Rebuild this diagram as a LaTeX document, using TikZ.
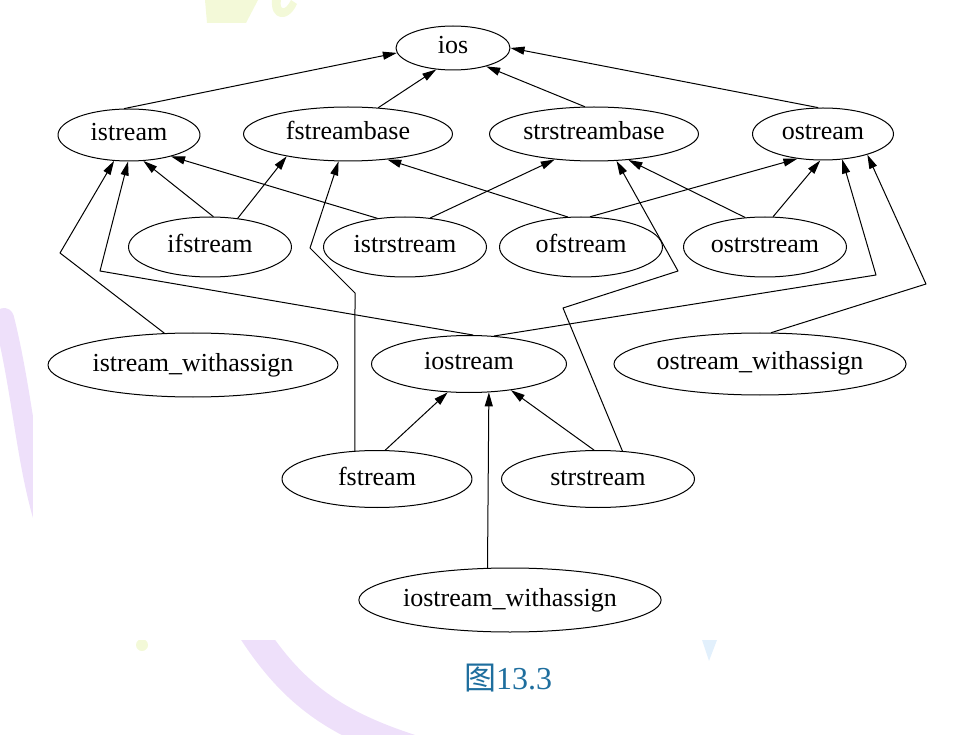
\documentclass[tikz,border=0pt]{standalone}
\usepackage{fontspec}
\setmainfont{Liberation Serif}
\newfontfamily\cjk{Noto Sans CJK SC}
\usetikzlibrary{shapes.geometric,arrows.meta}
\definecolor{capblue}{RGB}{30,110,158}
\definecolor{lilac}{RGB}{238,224,250}
\definecolor{lemon}{RGB}{243,249,216}
\definecolor{skyb}{RGB}{226,240,252}
\begin{document}
\begin{tikzpicture}[x=1pt,y=-1pt,line join=round,line cap=round,>={Triangle[length=14pt,width=8pt]},
	cls/.style={draw,ellipse,line width=1pt,inner sep=0pt,text height=18pt,text depth=6pt,font=\fontsize{26}{30}\selectfont},
	dep/.style={->,line width=1pt}]
	\useasboundingbox (0,0) rectangle (980,735);
	% background
	\fill[lemon] (205,0)--(258,0)--(246,23)--(207,23)--cycle;
	\fill[lemon] (272,0) .. controls (270,20) and (288,24) .. (297,4)--(291,0) .. controls (285,12) and (279,10) .. (281,0)--cycle;
	\draw[lilac,line width=20pt] (4,318) .. controls (22,390) and (26,460) .. (44,520);
	\draw[lilac,line width=28pt] (250,628) .. controls (290,690) and (330,722) .. (410,748);
	\fill[lemon] (142,645) circle (6pt);
	\fill[skyb] (702,640)--(717,640)--(709,661)--cycle;
	\fill[white] (33,23) rectangle (937,640);
	% classes
	\node[cls,minimum width=114pt,minimum height=44pt] (ios) at (453,48) {ios};
	\node[cls,minimum width=142pt,minimum height=52pt] (istream) at (129,135) {istream};
	\node[cls,minimum width=209pt,minimum height=54pt] (fstreambase) at (348,134) {fstreambase};
	\node[cls,minimum width=209pt,minimum height=54pt] (strstreambase) at (594,134) {strstreambase};
	\node[cls,minimum width=141pt,minimum height=52pt] (ostream) at (823,134) {ostream};
	\node[cls,minimum width=163pt,minimum height=60pt] (ifstream) at (210,247) {ifstream};
	\node[cls,minimum width=163pt,minimum height=60pt] (istrstream) at (405,247) {istrstream};
	\node[cls,minimum width=163pt,minimum height=60pt] (ofstream) at (581,247) {ofstream};
	\node[cls,minimum width=163pt,minimum height=60pt] (ostrstream) at (765,247) {ostrstream};
	\node[cls,minimum width=290pt,minimum height=64pt] (istreamwa) at (193,365) {istream\_withassign};
	\node[cls,minimum width=195pt,minimum height=57pt] (iostream) at (469,364) {iostream};
	\node[cls,minimum width=290pt,minimum height=62pt] (ostreamwa) at (760,364) {ostream\_withassign};
	\node[cls,minimum width=190pt,minimum height=57pt] (fstream) at (377,479) {fstream};
	\node[cls,minimum width=193pt,minimum height=57pt] (strstream) at (598,479) {strstream};
	\node[cls,minimum width=294pt,minimum height=64pt] (iostreamwa) at (510,600) {iostream\_withassign};
	% bends
	\coordinate (k1) at (60,253);
	\coordinate (k2) at (100,271);
	\coordinate (k3) at (876,275);
	\coordinate (k4) at (926,284);
	\coordinate (k5) at (355,293);
	\coordinate (k6) at (310,248);
	\coordinate (k7) at (563,308);
	\coordinate (k8) at (678,271);
	% inheritance
	\draw[dep] (istream.100) -- (ios.185);
	\draw[dep] (fstreambase.41) -- (ios.232);
	\draw[dep] (strstreambase.109) -- (ios.331);
	\draw[dep] (ostream.101) -- (ios.east);
	\draw[dep] (ifstream.84) -- (istream.299);
	\draw[dep] (ifstream.46) -- (fstreambase.200);
	\draw[dep] (istrstream.134) -- (istream.333);
	\draw[dep] (istrstream.49) -- (strstreambase.213);
	\draw[dep] (ofstream.114) -- (fstreambase.327);
	\draw[dep] (ofstream.73) -- (ostream.224);
	\draw[dep] (ostrstream.124) -- (strstreambase.323);
	\draw[dep] (ostrstream.75) -- (ostream.264);
	\draw[dep] (istreamwa.132) -- (k1) -- (istream.240);
	\draw[dep] (iostream.82) -- (k2) -- (istream.268);
	\draw[dep] (iostream.48) -- (k3) -- (ostream.307);
	\draw[dep] (ostreamwa.70) -- (k4) -- (ostream.335);
	\draw[dep] (fstream.128) -- (k5) -- (k6) -- (fstreambase.251);
	\draw[dep] (fstream.74) -- (iostream.233);
	\draw[dep] (strstream.98) -- (iostream.328);
	\draw[dep] (strstream.49) -- (k7) -- (k8) -- (strstreambase.310);
	\draw[dep] (iostreamwa.125) -- (iostream.305);
	\node[text=capblue,font=\fontsize{32}{36}\selectfont] (cap) at (508,678) {{\cjk 图}\rmfamily 13.3};
\end{tikzpicture}
\end{document}
